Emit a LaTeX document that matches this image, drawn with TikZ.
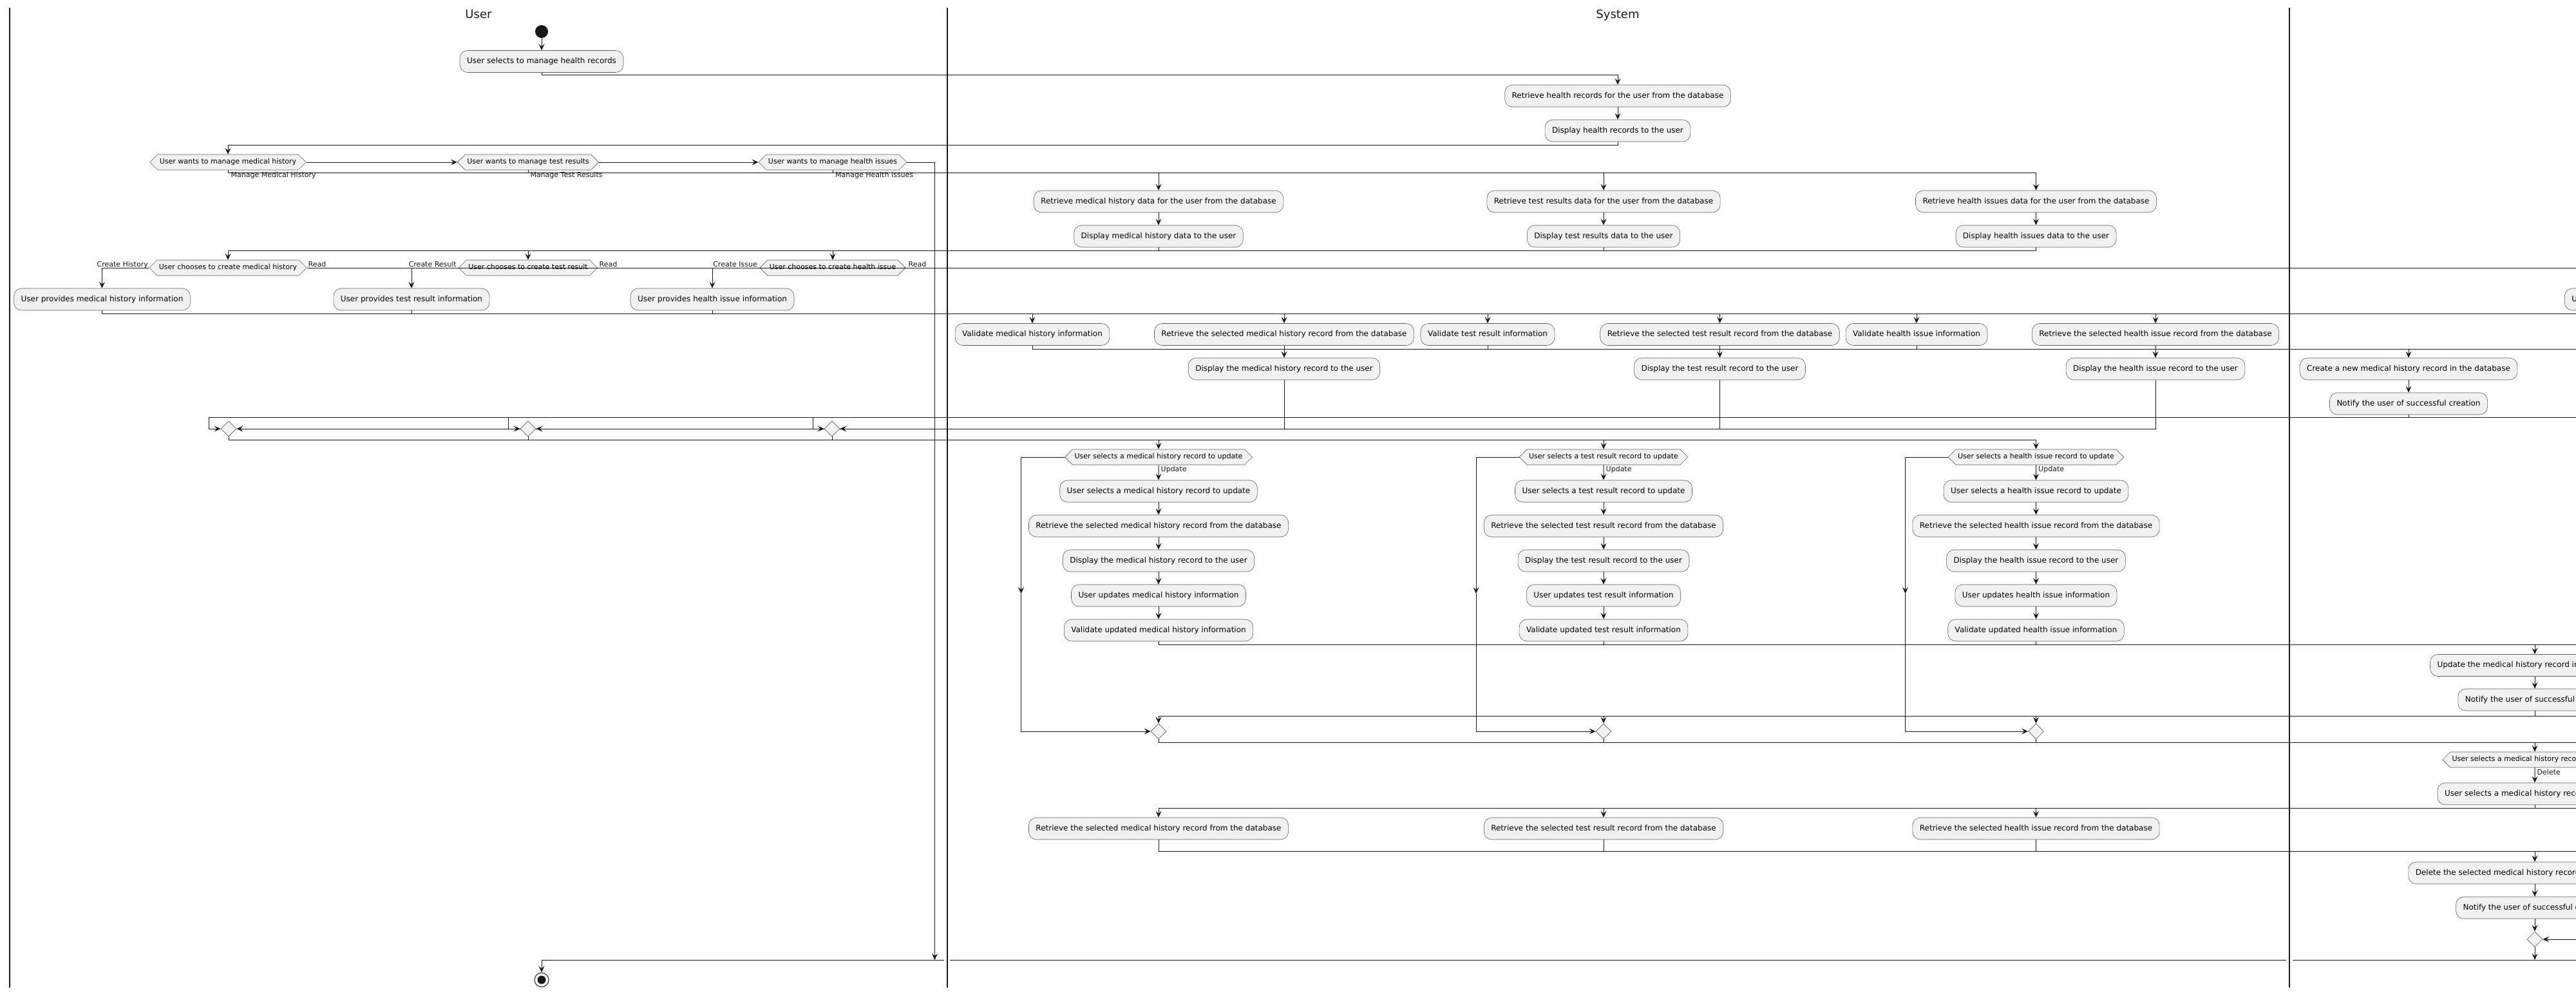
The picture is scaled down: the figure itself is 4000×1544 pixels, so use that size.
\documentclass[tikz,border=0pt]{standalone}
\usepackage{fontspec}
\setmainfont{DejaVu Sans}
\usetikzlibrary{shapes.geometric,shapes.symbols,arrows.meta,backgrounds}
\definecolor{ink}{HTML}{181818}
\definecolor{boxfill}{HTML}{F1F1F1}
\definecolor{boxline}{HTML}{5F5F5F}

\tikzset{
  act/.style={rectangle, rounded corners=12pt, fill=boxfill, draw=boxline, line width=0.6pt,
    inner xsep=11pt, inner ysep=0pt, minimum height=34pt,
    font=\fontsize{12}{14}\selectfont, text height=8.8pt, text depth=2.6pt},
  hex/.style={signal, signal to=east and west, signal pointer angle=90,
    fill=boxfill, draw=boxline, line width=0.6pt, inner xsep=3pt, inner ysep=0pt,
    minimum height=24pt, font=\fontsize{11}{13}\selectfont, text height=8pt, text depth=2.3pt},
  merge/.style={diamond, aspect=1, fill=boxfill, draw=boxline, line width=0.6pt,
    minimum width=24pt, minimum height=24pt, inner sep=0pt},
  flow/.style={draw=ink, line width=1pt},
  arr/.style={flow, -{Stealth[length=10pt,width=9pt,inset=4pt]}},
  lbl/.style={font=\fontsize{11}{13}\selectfont, inner sep=0pt, text=ink},
  lane/.style={draw=ink, line width=1.2pt},
  lanetitle/.style={font=\fontsize{18}{21}\selectfont, inner sep=0pt, text=ink},
  startdot/.style={circle, fill=ink, minimum size=20pt, inner sep=0pt},
  enddot/.style={circle, draw=ink, line width=1pt, fill=white, minimum size=22pt, inner sep=0pt,
    path picture={\fill[ink] (path picture bounding box.center) circle (6.5pt);}},
}

\begin{document}
\begin{tikzpicture}[x=1pt,y=-1pt]
\useasboundingbox (0,0) rectangle (4000,1544);
\clip (0,0) rectangle (4000,1544);

% horizontal levels of the routing lines
\coordinate (j1) at (0,117);
\coordinate (j2) at (0,225);
\coordinate (j3) at (0,268);
\coordinate (j4) at (0,389);
\coordinate (jr) at (0,416);
\coordinate (j5) at (0,487);
\coordinate (j6) at (0,542);
\coordinate (j7) at (0,648);
\coordinate (j8) at (0,683);
\coordinate (j9) at (0,1001);
\coordinate (j10) at (0,1112);
\coordinate (j11) at (0,1153);
\coordinate (j12) at (0,1255);
\coordinate (j13) at (0,1322);
\coordinate (j14) at (0,1491);
\coordinate (rim) at (4010,0);
\coordinate (k3) at (1451.5,0);
\coordinate (b1) at (324.6,648);
\coordinate (b2) at (789.5,648);
\coordinate (b3) at (1262,648);
\coordinate (q1) at (1585.5,922);
\coordinate (q2) at (2292,922);
\coordinate (q3) at (2958.5,922);
\coordinate (g1a) at (1465.5,1491);
\coordinate (g1b) at (1475,1491);
\coordinate (g2a) at (3549.7,1491);
\coordinate (g2b) at (3560,1491);

% swimlane borders and titles
\begin{scope}[on background layer]
  \draw[lane] (15,12) -- (15,1534);
  \draw[lane] (1471,12) -- (1471,1534);
  \draw[lane] (3555,12) -- (3555,1534);
\end{scope}
\node[lanetitle, anchor=base] (tuser) at (743,29) {User};
\node[lanetitle, anchor=base] (tsystem) at (2512,29) {System};

% start and first steps
\node[startdot] (start) at (841,49) {};
\node[act] (a1) at (841,95.5) {User selects to manage health records};
\node[act] (s1) at (2512,149) {Retrieve health records for the user from the database};
\node[act] (s2) at (2512,203) {Display health records to the user};

% category choice
\node[hex] (h1) at (354,252) {User wants to manage medical history};
\node[hex] (h2) at (820,252) {User wants to manage test results};
\node[hex] (h3) at (1293,252) {User wants to manage health issues};
\node[act] (s3) at (1799,313) {Retrieve medical history data for the user from the database};
\node[act] (s4) at (1799,367) {Display medical history data to the user};
\node[act] (s5) at (2490,313) {Retrieve test results data for the user from the database};
\node[act] (s6) at (2490,367) {Display test results data to the user};
\node[act] (s7) at (3161.5,313) {Retrieve health issues data for the user from the database};
\node[act] (s8) at (3161.5,367) {Display health issues data to the user};

% create / read choice
\node[hex] (h4) at (354,416) {User chooses to create medical history};
\node[hex] (h5) at (820,416) {User chooses to create test result};
\node[hex] (h6) at (1293,416) {User chooses to create health issue};
\node[act] (u1) at (158.5,465) {User provides medical history information};
\node[act] (u2) at (639,465) {User provides test result information};
\node[act] (u3) at (1106,465) {User provides health issue information};
\node[act, anchor=west] (l3) at (3982,465) {U};

\node[act] (v1) at (1603,519.5) {Validate medical history information};
\node[act] (r1) at (1994,519.5) {Retrieve the selected medical history record from the database};
\node[act] (v2) at (2310,519.5) {Validate test result information};
\node[act] (r2) at (2670.5,519.5) {Retrieve the selected test result record from the database};
\node[act] (v3) at (2976,519.5) {Validate health issue information};
\node[act] (r3) at (3347,519.5) {Retrieve the selected health issue record from the database};
\node[act] (d1) at (1994,573) {Display the medical history record to the user};
\node[act] (d2) at (2670.5,573) {Display the test result record to the user};
\node[act] (d3) at (3347,573) {Display the health issue record to the user};
\node[act] (c1) at (3740,573) {Create a new medical history record in the database};
\node[act] (c2) at (3740,627) {Notify the user of successful creation};

\node[merge] (m1) at (355,666) {};
\node[merge] (m2) at (820,666) {};
\node[merge] (m3) at (1292,666) {};

% update branch
\node[hex] (h7) at (1799,710) {User selects a medical history record to update};
\node[hex] (h8) at (2490,710) {User selects a test result record to update};
\node[hex] (h9) at (3161.5,710) {User selects a health issue record to update};
\node[act] (u4) at (1799,763) {User selects a medical history record to update};
\node[act] (u5) at (1799,817) {Retrieve the selected medical history record from the database};
\node[act] (u6) at (1799,871) {Display the medical history record to the user};
\node[act] (u7) at (1799,925) {User updates medical history information};
\node[act] (u8) at (1799,979) {Validate updated medical history information};
\node[act] (t4) at (2490,763) {User selects a test result record to update};
\node[act] (t5) at (2490,817) {Retrieve the selected test result record from the database};
\node[act] (t6) at (2490,871) {Display the test result record to the user};
\node[act] (t7) at (2490,925) {User updates test result information};
\node[act] (t8) at (2490,979) {Validate updated test result information};
\node[act] (i4) at (3161.5,763) {User selects a health issue record to update};
\node[act] (i5) at (3161.5,817) {Retrieve the selected health issue record from the database};
\node[act] (i6) at (3161.5,871) {Display the health issue record to the user};
\node[act] (i7) at (3161.5,925) {User updates health issue information};
\node[act] (i8) at (3161.5,979) {Validate updated health issue information};
\node[act] (u9) at (3936,1033.5) {Update the medical history record in the database};
\node[act] (u10) at (3936,1087) {Notify the user of successful update};
\node[merge] (m4) at (1799,1136) {};
\node[merge] (m5) at (2490,1136) {};
\node[merge] (m6) at (3161.5,1136) {};

% delete branch
\node[hex] (h10) at (3936,1180) {User selects a medical history record to delete};
\node[act] (u11) at (3936,1233) {User selects a medical history record to delete};
\node[act] (r4) at (1799,1287) {Retrieve the selected medical history record from the database};
\node[act] (r5) at (2490,1287) {Retrieve the selected test result record from the database};
\node[act] (r6) at (3161.5,1287) {Retrieve the selected health issue record from the database};
\node[act] (u12) at (3936,1356) {Delete the selected medical history record from the database};
\node[act] (u13) at (3936,1410) {Notify the user of successful deletion};
\node[merge] (m7) at (3936,1459) {};
\node[enddot] (end) at (841,1522) {};

% branch labels
\node[lbl, anchor=base west] (lmh) at (358.4,275.5) {Manage Medical History};
\node[lbl, anchor=base west] (ltr) at (823.3,275.5) {Manage Test Results};
\node[lbl, anchor=base west] (lhi) at (1297,275.5) {Manage Health Issues};
\node[lbl, anchor=base east] (lch) at (230,414) {Create History};
\node[lbl, anchor=base west] (lr1) at (478.5,414) {Read};
\node[lbl, anchor=base east] (lcr) at (709,414) {Create Result};
\node[lbl, anchor=base west] (lr2) at (930.5,414) {Read};
\node[lbl, anchor=base east] (lci) at (1176,414) {Create Issue};
\node[lbl, anchor=base west] (lr3) at (1410.5,414) {Read};
\node[lbl, anchor=base west] (lu1) at (1802.5,732) {Update};
\node[lbl, anchor=base west] (lu2) at (2493.5,732) {Update};
\node[lbl, anchor=base west] (lu3) at (3165,732) {Update};
\node[lbl, anchor=base west] (ldl) at (3939.5,1203) {Delete};

% connectors
\draw[arr] (start) -- (a1);
\draw[arr] (a1.south) -- (a1.south |- j1) -| (s1.north);
\draw[arr] (s1) -- (s2);
\draw[arr] (s2.south) -- (s2.south |- j2) -| (h1.north);
\draw[arr] (h1.east) -- (h2.west);
\draw[arr] (h2.east) -- (h3.west);
\draw[arr] (h3.east) -| (k3 |- j14);
\draw[arr] (h1.south) -- (h1.south |- j3) -| (s3.north);
\draw[arr] (h2.south) -- (h2.south |- j3) -| (s5.north);
\draw[arr] (h3.south) -- (h3.south |- j3) -| (s7.north);
\draw[arr] (s3) -- (s4);
\draw[arr] (s5) -- (s6);
\draw[arr] (s7) -- (s8);
\draw[arr] (s4.south) -- (s4.south |- j4) -| (h4.north);
\draw[arr] (s6.south) -- (s6.south |- j4) -| (h5.north);
\draw[arr] (s8.south) -- (s8.south |- j4) -| (h6.north);
\draw[arr] (h4.west) -| (u1.north);
\draw[arr] (h5.west) -| (u2.north);
\draw[arr] (h6.west) -| (u3.north);
\draw[flow] (h4.east) -- (jr -| rim);

\draw[flow] (u1.south) |- (j5 -| rim);
\draw[flow] (u2.south) -- (u2.south |- j5);
\draw[flow] (u3.south) -- (u3.south |- j5);
\foreach \n in {v1,r1,v2,r2,v3,r3} \draw[arr] (\n.north |- j5) -- (\n.north);
\draw[flow] (v1.south) |- (j6 -| rim);
\draw[flow] (v2.south) -- (v2.south |- j6);
\draw[flow] (v3.south) -- (v3.south |- j6);
\draw[arr] (r1) -- (d1);
\draw[arr] (r2) -- (d2);
\draw[arr] (r3) -- (d3);
\draw[arr] (c1.north |- j6) -- (c1.north);
\draw[arr] (c1) -- (c2);
\draw[flow] (c2.south) -- (c2.south |- j7);
\draw[flow] (b1) -- (j7 -| rim);
\draw[arr] (b1) |- (m1.west);
\draw[arr] (b2) |- (m2.west);
\draw[arr] (b3) |- (m3.west);
\begin{scope}[on background layer]
  \draw[arr] (d1.south) |- (m1.east);
  \draw[arr] (d2.south) |- (m2.east);
  \draw[arr] (d3.south) |- (m3.east);
\end{scope}

\draw[flow] (m1.south) |- (h9.north |- j8);
\draw[flow] (m2.south) -- (m2.south |- j8);
\draw[flow] (m3.south) -- (m3.south |- j8);
\foreach \n in {h7,h8,h9} \draw[arr] (\n.north |- j8) -- (\n.north);

\draw[arr] (h7.west) -| (q1);
\draw[arr] (q1) |- (m4.west);
\draw[arr] (h8.west) -| (q2);
\draw[arr] (q2) |- (m5.west);
\draw[arr] (h9.west) -| (q3);
\draw[arr] (q3) |- (m6.west);

\draw[arr] (h7) -- (u4);
\draw[arr] (u4) -- (u5);
\draw[arr] (u5) -- (u6);
\draw[arr] (u6) -- (u7);
\draw[arr] (u7) -- (u8);
\draw[arr] (h8) -- (t4);
\draw[arr] (t4) -- (t5);
\draw[arr] (t5) -- (t6);
\draw[arr] (t6) -- (t7);
\draw[arr] (t7) -- (t8);
\draw[arr] (h9) -- (i4);
\draw[arr] (i4) -- (i5);
\draw[arr] (i5) -- (i6);
\draw[arr] (i6) -- (i7);
\draw[arr] (i7) -- (i8);

\draw[flow] (u8.south) |- (j9 -| rim);
\draw[flow] (t8.south) -- (t8.south |- j9);
\draw[flow] (i8.south) -- (i8.south |- j9);
\draw[arr] (u9.north |- j9) -- (u9.north);
\draw[arr] (u9) -- (u10);
\draw[flow] (u10.south) -- (u10.south |- j10);
\draw[flow] (m4.north |- j10) -- (j10 -| rim);
\foreach \n in {m4,m5,m6} \draw[arr] (\n.north |- j10) -- (\n.north);

\draw[flow] (m4.south) |- (j11 -| rim);
\draw[flow] (m5.south) -- (m5.south |- j11);
\draw[flow] (m6.south) -- (m6.south |- j11);
\draw[arr] (h10.north |- j11) -- (h10.north);
\draw[arr] (h10) -- (u11);
\draw[flow] (u11.south) -- (u11.south |- j12);
\draw[flow] (r4.north |- j12) -- (j12 -| rim);
\foreach \n in {r4,r5,r6} \draw[arr] (\n.north |- j12) -- (\n.north);
\draw[flow] (r4.south) |- (j13 -| rim);
\draw[flow] (r5.south) -- (r5.south |- j13);
\draw[flow] (r6.south) -- (r6.south |- j13);
\draw[arr] (u12.north |- j13) -- (u12.north);
\draw[arr] (u12) -- (u13);
\draw[arr] (u13) -- (m7);
\draw[arr] (m7.east -| rim) -- (m7.east);
\draw[arr] (m7.south) -- (m7.south |- j14);

% closing line towards the end node
\draw[flow] (end.north |- j14) -- (g1a);
\draw[flow] (g1b) -- (g2a);
\draw[flow] (g2b) -- (j14 -| rim);
\draw[arr] (end.north |- j14) -- (end.north);
\end{tikzpicture}
\end{document}
